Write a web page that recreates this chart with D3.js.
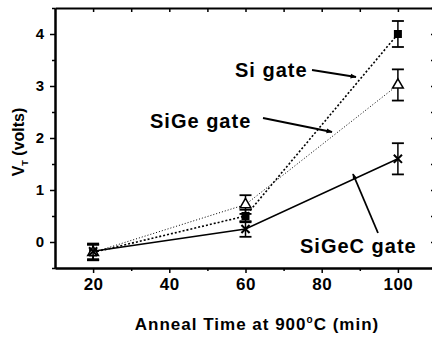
<!DOCTYPE html>
<html>
<head>
<meta charset="utf-8">
<script src="https://cdn.jsdelivr.net/npm/d3@7"></script>
<style>
  body { margin: 0; background: #fff; }
  text { font-family: "Liberation Sans", Arial, sans-serif; font-weight: bold; fill: #000; }
</style>
</head>
<body>
<div id="chart"></div>
<script>
const times = [20, 60, 100];
const siGate = [-0.2, 0.5, 4.0];
const siErr = [0.15, 0.12, 0.25];
const sigeGate = [-0.2, 0.72, 3.02];
const sigeErr = [0.15, 0.18, 0.3];
const sigecGate = [-0.18, 0.25, 1.6];
const sigecErr = [0.15, 0.15, 0.3];
const xTicks = [20, 40, 60, 80, 100];
const yTicks = [0, 1, 2, 3, 4];

const width = 432, height = 337;
const svg = d3.select('#chart').append('svg')
  .attr('width', width)
  .attr('height', height);

const x = d3.scaleLinear().domain([10, 110]).range([55, 436]);
const y = d3.scaleLinear().domain([-0.5, 4.5]).range([268, 8]);

// axes
svg.append('g')
  .attr('transform', `translate(0,${y(-0.5)})`)
  .call(d3.axisBottom(x).tickValues(xTicks).tickSize(5).tickPadding(5).tickSizeOuter(0))
  .call(g => g.selectAll('text').style('font-size', '17px').style('letter-spacing', '0.5px'));
svg.append('g')
  .attr('transform', `translate(0,${y(-0.5)})`)
  .call(d3.axisBottom(x).tickValues(d3.range(30, 110, 20)).tickSize(3).tickFormat('').tickSizeOuter(0));
svg.append('g')
  .attr('transform', `translate(${x(10)},0)`)
  .call(d3.axisLeft(y).tickValues(yTicks).tickFormat(d3.format('d')).tickSize(5).tickPadding(6).tickSizeOuter(0))
  .call(g => g.selectAll('text').style('font-size', '15px'));
svg.append('g')
  .attr('transform', `translate(${x(10)},0)`)
  .call(d3.axisLeft(y).tickValues(d3.range(-0.5, 4.6, 1)).tickSize(3).tickFormat('').tickSizeOuter(0));
svg.append('g')
  .attr('transform', `translate(0,${y(4.5)})`)
  .call(d3.axisBottom(x).tickValues(d3.range(20, 110, 10)).tickSize(4).tickFormat('').tickSizeOuter(0));
svg.append('g')
  .attr('transform', `translate(${x(110)},0)`)
  .call(d3.axisRight(y).tickValues(d3.range(-0.5, 4.6, 0.5)).tickSize(-5).tickFormat('').tickSizeOuter(0));
svg.selectAll('.domain').attr('stroke-width', 2);
svg.selectAll('.tick line').attr('stroke-width', 1.5);

const series = [
  { vals: siGate, err: siErr, dash: '2,2', sw: 1.6, marker: 'square' },
  { vals: sigeGate, err: sigeErr, dash: '1,2', sw: 1, marker: 'triangle' },
  { vals: sigecGate, err: sigecErr, dash: null, sw: 1.5, marker: 'cross' }
];

const line = d3.line().x((d, i) => x(times[i])).y(d => y(d));

series.forEach(s => {
  svg.append('path')
    .datum(s.vals)
    .attr('d', line)
    .attr('fill', 'none')
    .attr('stroke', '#000')
    .attr('stroke-width', s.sw)
    .attr('stroke-dasharray', s.dash);

  const g = svg.append('g');
  s.vals.forEach((v, i) => {
    const cx = x(times[i]);
    const lo = y(v - s.err[i]), hi = y(v + s.err[i]);
    g.append('line').attr('x1', cx).attr('x2', cx).attr('y1', lo).attr('y2', hi)
      .attr('stroke', '#000').attr('stroke-width', 1.5);
    [lo, hi].forEach(yy => g.append('line')
      .attr('x1', cx - 6).attr('x2', cx + 6).attr('y1', yy).attr('y2', yy)
      .attr('stroke', '#000').attr('stroke-width', 1.8));
    const cy = y(v);
    if (s.marker === 'square') {
      g.append('rect').attr('x', cx - 4).attr('y', cy - 4).attr('width', 8).attr('height', 8)
        .attr('fill', '#000');
    } else if (s.marker === 'triangle') {
      g.append('path').attr('d', d3.symbol(d3.symbolTriangle, 50)())
        .attr('transform', `translate(${cx},${cy})`)
        .attr('fill', '#fff').attr('stroke', '#000').attr('stroke-width', 1.5);
    } else {
      g.append('path').attr('d', d3.symbol(d3.symbolX, 45)())
        .attr('transform', `translate(${cx},${cy})`)
        .attr('fill', 'none').attr('stroke', '#000').attr('stroke-width', 2);
    }
  });
});

// annotations
const labels = [
  { text: 'Si gate', tx: 235, ty: 77, from: [312, 70], to: [356, 77] },
  { text: 'SiGe gate', tx: 150, ty: 128, from: [263, 118], to: [332, 132] },
  { text: 'SiGeC gate', tx: 300, ty: 253, from: [378, 233], to: [353, 174] }
];

svg.append('defs').append('marker')
  .attr('id', 'arrow')
  .attr('viewBox', '0 0 10 10')
  .attr('refX', 9).attr('refY', 5)
  .attr('markerWidth', 7).attr('markerHeight', 6)
  .attr('markerUnits', 'userSpaceOnUse')
  .attr('orient', 'auto')
  .append('path').attr('d', 'M0,1 L10,5 L0,9 Z').attr('fill', '#000');

labels.forEach(l => {
  svg.append('text').attr('x', l.tx).attr('y', l.ty)
    .style('font-size', '20px').style('letter-spacing', '1px').text(l.text);
  svg.append('line')
    .attr('x1', l.from[0]).attr('y1', l.from[1])
    .attr('x2', l.to[0]).attr('y2', l.to[1])
    .attr('stroke', '#000').attr('stroke-width', 1.8)
    .attr('marker-end', 'url(#arrow)');
});

// axis titles
const xt = svg.append('text')
  .attr('x', 257).attr('y', 330)
  .attr('text-anchor', 'middle')
  .style('font-size', '17px').style('letter-spacing', '1px');
xt.append('tspan').text('Anneal Time at 900');
xt.append('tspan').attr('dy', -7).style('font-size', '10px').text('o');
xt.append('tspan').attr('dy', 7).text('C (min)');

const yt = svg.append('text')
  .attr('transform', 'translate(24,142) rotate(-90)')
  .attr('text-anchor', 'middle')
  .style('font-size', '16px');
yt.append('tspan').text('V');
yt.append('tspan').attr('dy', 4).style('font-size', '9px').text('T');
yt.append('tspan').attr('dy', -4).text(' (volts)');
</script>
</body>
</html>
